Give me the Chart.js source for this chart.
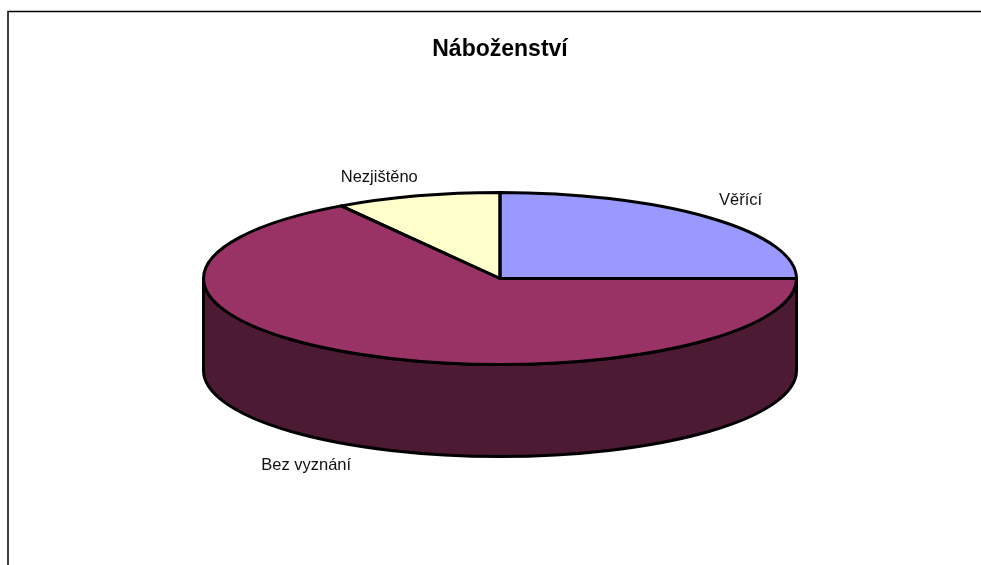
<!DOCTYPE html>
<html><head><meta charset="utf-8">
<style>html,body{margin:0;padding:0;background:#fff}canvas{display:block}</style>
<script src="https://cdn.jsdelivr.net/npm/chart.js@4/dist/chart.umd.min.js"></script>
</head><body><canvas id="c" width="981" height="565"></canvas>
<script>
const titleText = 'Náboženství';
const categories = ['Věřící', 'Bez vyznání', 'Nezjištěno'];
const values = [25, 66, 9];
const topColors = ['#9999FF', '#993366', '#FFFFCC'];
const sideColors = ['#4D4D80', '#4D1A33', '#808066'];

const CX = 500, CY = 278.5, RX = 296.5, RY = 86, DEPTH = 92, R = 150, LW = 3;
const labelOffsets = [[31, -17], [-51, 112], [-38, -18]];

function ellipseArcs(chart) { return chart.getDatasetMeta(0).data; }
function a0(chart) { return chart.getDatasetMeta(0).data[0]; }
const pie3d = {
  id: 'pie3d',
  beforeDraw(chart) {
    const c = chart.ctx; c.save();
    c.strokeStyle = '#000'; c.lineWidth = 1.5;
    c.beginPath(); c.moveTo(8, 565); c.lineTo(8, 11.5); c.lineTo(981, 11.5); c.stroke();
    c.restore();
  },
  beforeDatasetsDraw(chart) {
    const c = chart.ctx;
    c.save(); c.lineJoin = 'round'; c.strokeStyle = '#000'; c.lineWidth = LW;
    ellipseArcs(chart).forEach((a, i) => {
      const s = Math.max(a.startAngle, 0), e = Math.min(a.endAngle, Math.PI);
      if (e <= s) return;
      c.beginPath();
      c.ellipse(CX, CY, RX, RY, 0, s, e);
      c.ellipse(CX, CY + DEPTH, RX, RY, 0, e, s, true);
      c.closePath();
      c.fillStyle = sideColors[i]; c.fill(); c.stroke();
    });
    c.restore();
    c.save();
    c.translate(CX, CY); c.scale(RX / R, RY / R); c.translate(-a0(chart).x, -a0(chart).y);
  },
  afterDatasetsDraw(chart) {
    const c = chart.ctx; c.restore();
    c.save(); c.lineJoin = 'round'; c.strokeStyle = '#000'; c.lineWidth = LW;
    ellipseArcs(chart).forEach((a) => {
      c.beginPath(); c.moveTo(CX, CY);
      c.ellipse(CX, CY, RX, RY, 0, a.startAngle, a.endAngle);
      c.closePath(); c.stroke();
    });
    c.fillStyle = '#111'; c.font = '16.5px "Liberation Sans"';
    c.textAlign = 'center'; c.textBaseline = 'middle';
    ellipseArcs(chart).forEach((a, i) => {
      const m = (a.startAngle + a.endAngle) / 2;
      c.fillText(categories[i], CX + RX * Math.cos(m) + labelOffsets[i][0], CY + RY * Math.sin(m) + labelOffsets[i][1]);
    });
    c.restore();
  }
};

new Chart(document.getElementById('c'), {
  type: 'pie',
  data: { labels: categories, datasets: [{ data: values, backgroundColor: topColors, borderWidth: 0 }] },
  options: {
    responsive: false, animation: false, rotation: 0,
    layout: { padding: { left: 350, right: 331, top: 0, bottom: 136 } },
    plugins: {
      legend: { display: false }, tooltip: { enabled: false },
      title: { display: true, text: titleText, color: '#000',
        font: { family: '"Liberation Sans"', size: 23, weight: 'bold' },
        padding: { top: 36, bottom: 65 } }
    }
  },
  plugins: [pie3d]
});
</script></body></html>
